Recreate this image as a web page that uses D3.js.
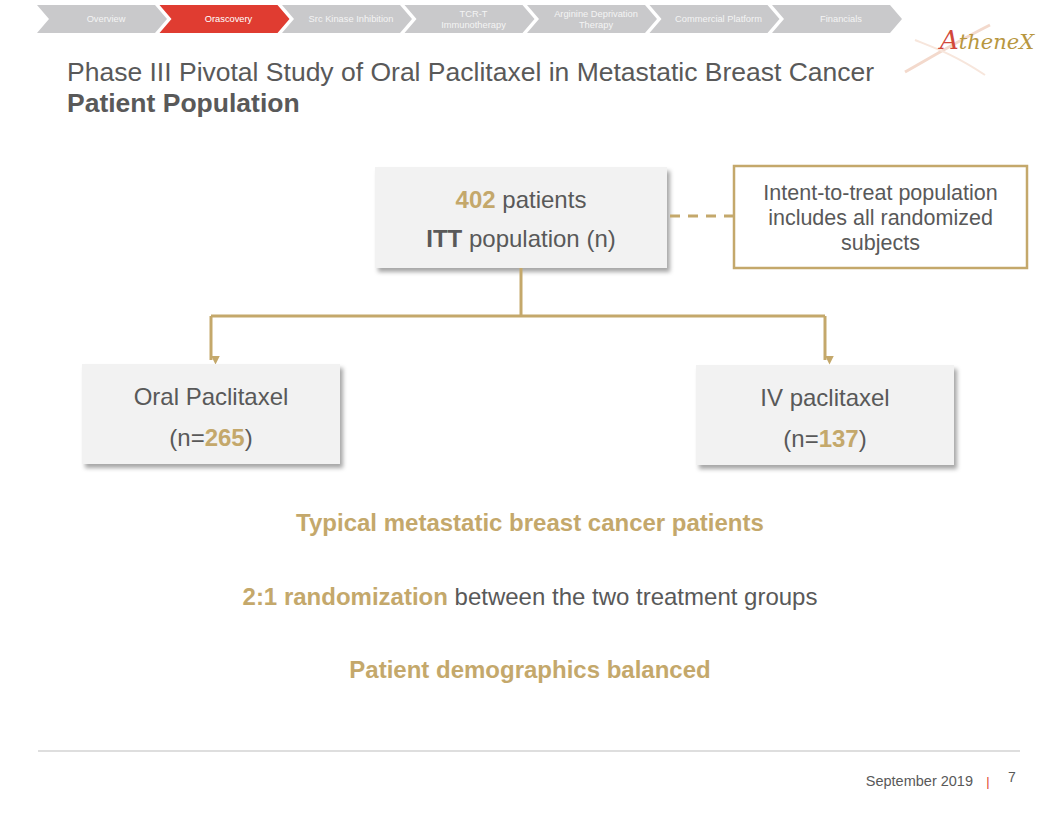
<!DOCTYPE html>
<html><head><meta charset="utf-8">
<script src="https://cdn.jsdelivr.net/npm/d3@7/dist/d3.min.js"></script>
<style>
html,body{margin:0;padding:0;background:#fff;}
svg{display:block;font-family:"Liberation Sans",Arial,sans-serif;}
</style></head>
<body>
<svg id="c" width="1056" height="816"></svg>
<script>
// ---- data ----
const navTabs = ["Overview","Orascovery","Src Kinase Inhibition","TCR-T|Immunotherapy","Arginine Deprivation|Therapy","Commercial Platform","Financials"];
const activeTab = "Orascovery";
const titleLine1 = "Phase III Pivotal Study of Oral Paclitaxel in Metastatic Breast Cancer";
const titleLine2 = "Patient Population";
const ittTotal = 402;
const ittNote = ["Intent-to-treat population","includes all randomized","subjects"];
const armNames = ["Oral Paclitaxel","IV paclitaxel"];
const armCounts = [265, 137];
const footerDate = "September 2019";
const pageNumber = "7";

(function(){
const GOLD = "#c4a86b", GRAY = "#595959", RED = "#e03c31", TAB = "#c9c9cb";
const FS = 24;
const svg = d3.select("#c");

// shadow filter
const defs = svg.append("defs");
const f = defs.append("filter").attr("id","sh").attr("x","-10%").attr("y","-10%").attr("width","130%").attr("height","140%");
f.append("feDropShadow").attr("dx",3).attr("dy",4).attr("stdDeviation",2.2).attr("flood-color","#000").attr("flood-opacity",0.35);
defs.append("marker").attr("id","arr").attr("viewBox","0 0 10 10").attr("refX",5).attr("refY",10)
  .attr("markerWidth",9).attr("markerHeight",9).attr("markerUnits","userSpaceOnUse").attr("orient","auto")
  .append("path").attr("d","M0,0 L10,5 L0,10 Z").attr("fill",GOLD);

// ---- nav ----
const navX = d3.scaleLinear().domain([0, navTabs.length-1]).range([37, 772]);
const W = 130, tip = 12, yT = 5, yB = 33, yM = 19;
const g = svg.append("g").selectAll("g").data(navTabs).join("g");
g.append("path").attr("d", (d,i)=>{const x=navX(i);
  return `M${x},${yT}L${x+W-tip},${yT}L${x+W},${yM}L${x+W-tip},${yB}L${x},${yB}L${x+tip},${yM}Z`;})
  .attr("fill", d=>d===activeTab?RED:TAB);
g.each(function(d,i){
  const lines = d.split("|"); const x = navX(i)+W/2+4;
  const t = d3.select(this).append("text").attr("text-anchor","middle").attr("fill", d===activeTab?"#fff":"#f4f4f4")
    .attr("font-size",9.3);
  lines.forEach((l,k)=>t.append("tspan").attr("x",x).attr("y", lines.length===1?yM+3:yM-2+k*11).text(l));
});

// ---- logo ----
const logo = svg.append("g");
logo.append("path").attr("d","M905,72 C935,55 960,40 990,25").attr("stroke","#f3d9cc").attr("stroke-width",3).attr("fill","none");
logo.append("path").attr("d","M915,40 C935,48 955,55 985,75").attr("stroke","#f7e6dc").attr("stroke-width",2).attr("fill","none");
const lt = logo.append("text").attr("x",940).attr("y",49).attr("font-family","'DejaVu Serif',serif").attr("font-style","italic").attr("font-size",21);
lt.append("tspan").attr("fill","#d2483a").attr("font-size",26).text("A");
lt.append("tspan").attr("fill","#b8973f").text("theneX");

// ---- title ----
svg.append("text").attr("x",67).attr("y",81).attr("font-size",26.5).attr("fill",GRAY).text(titleLine1);
svg.append("text").attr("x",67).attr("y",112).attr("font-size",26.5).attr("font-weight","bold").attr("fill",GRAY).text(titleLine2);

// ---- ITT box ----
const itt = {x:375,y:167,w:292,h:101};
svg.append("rect").attr("x",itt.x).attr("y",itt.y).attr("width",itt.w).attr("height",itt.h).attr("fill","#f2f2f2").attr("filter","url(#sh)");
const t1 = svg.append("text").attr("x",itt.x+itt.w/2).attr("y",208).attr("text-anchor","middle").attr("font-size",FS).attr("fill",GRAY);
t1.append("tspan").attr("font-weight","bold").attr("fill",GOLD).text(ittTotal);
t1.append("tspan").text(" patients");
const t2 = svg.append("text").attr("x",itt.x+itt.w/2).attr("y",247).attr("text-anchor","middle").attr("font-size",FS).attr("fill",GRAY);
t2.append("tspan").attr("font-weight","bold").text("ITT");
t2.append("tspan").text(" population (n)");

// dashed link
svg.append("line").attr("x1",670).attr("x2",733).attr("y1",216).attr("y2",216).attr("stroke",GOLD).attr("stroke-width",3).attr("stroke-dasharray","10,8");

// note box
const note = {x:734,y:166,w:293,h:102};
svg.append("rect").attr("x",note.x).attr("y",note.y).attr("width",note.w).attr("height",note.h).attr("fill","#fff").attr("stroke",GOLD).attr("stroke-width",2.5);
svg.append("g").selectAll("text").data(ittNote).join("text").attr("x",note.x+note.w/2).attr("y",(d,i)=>200+i*25)
  .attr("text-anchor","middle").attr("font-size",21.5).attr("fill",GRAY).text(d=>d);

// ---- arms ----
const armX = d3.scalePoint().domain(armNames).range([211,825]);
const cx = itt.x+itt.w/2;
svg.append("path").attr("d",`M${cx},${itt.y+itt.h}V316`).attr("stroke",GOLD).attr("stroke-width",3).attr("fill","none");
svg.append("path").attr("d",`M${armX(armNames[0])},316H${armX(armNames[1])}`).attr("stroke",GOLD).attr("stroke-width",3).attr("fill","none");
svg.append("g").selectAll("line").data(armNames).join("line").attr("x1",d=>armX(d)).attr("x2",d=>armX(d))
  .attr("y1",316).attr("y2",360).attr("stroke",GOLD).attr("stroke-width",3).attr("marker-end","url(#arr)");

const boxW = 258, boxH = 100;
const ag = svg.append("g").selectAll("g").data(armNames).join("g");
ag.append("rect").attr("x",d=>armX(d)-boxW/2).attr("y",(d,i)=>364+i).attr("width",boxW).attr("height",boxH)
  .attr("fill","#f2f2f2").attr("filter","url(#sh)");
ag.append("text").attr("x",d=>armX(d)).attr("y",(d,i)=>405+i).attr("text-anchor","middle").attr("font-size",FS).attr("fill",GRAY).text(d=>d);
ag.each(function(d,i){
  const t = d3.select(this).append("text").attr("x",armX(d)).attr("y",446+i).attr("text-anchor","middle").attr("font-size",FS).attr("fill",GRAY);
  t.append("tspan").text("(n=");
  t.append("tspan").attr("font-weight","bold").attr("fill",GOLD).text(armCounts[i]);
  t.append("tspan").text(")");
});

// ---- key messages ----
svg.append("text").attr("x",530).attr("y",531).attr("text-anchor","middle").attr("font-size",FS).attr("font-weight","bold").attr("fill",GOLD).text("Typical metastatic breast cancer patients");
const m2 = svg.append("text").attr("x",530).attr("y",605).attr("text-anchor","middle").attr("font-size",FS).attr("fill",GRAY);
m2.append("tspan").attr("font-weight","bold").attr("fill",GOLD).text("2:1 randomization");
m2.append("tspan").text(" between the two treatment groups");
svg.append("text").attr("x",530).attr("y",678).attr("text-anchor","middle").attr("font-size",FS).attr("font-weight","bold").attr("fill",GOLD).text("Patient demographics balanced");

// ---- footer ----
svg.append("line").attr("x1",38).attr("x2",1020).attr("y1",751).attr("y2",751).attr("stroke","#bdbdbd").attr("stroke-width",1.2);
svg.append("text").attr("x",973).attr("y",786).attr("text-anchor","end").attr("font-size",14.5).attr("fill",GRAY).text(footerDate);
svg.append("text").attr("x",988).attr("y",786).attr("text-anchor","middle").attr("font-size",13).attr("fill",RED).text("|");
svg.append("text").attr("x",1012).attr("y",782).attr("text-anchor","middle").attr("font-size",14).attr("fill",GRAY).text(pageNumber);
})();
</script>
</body></html>
